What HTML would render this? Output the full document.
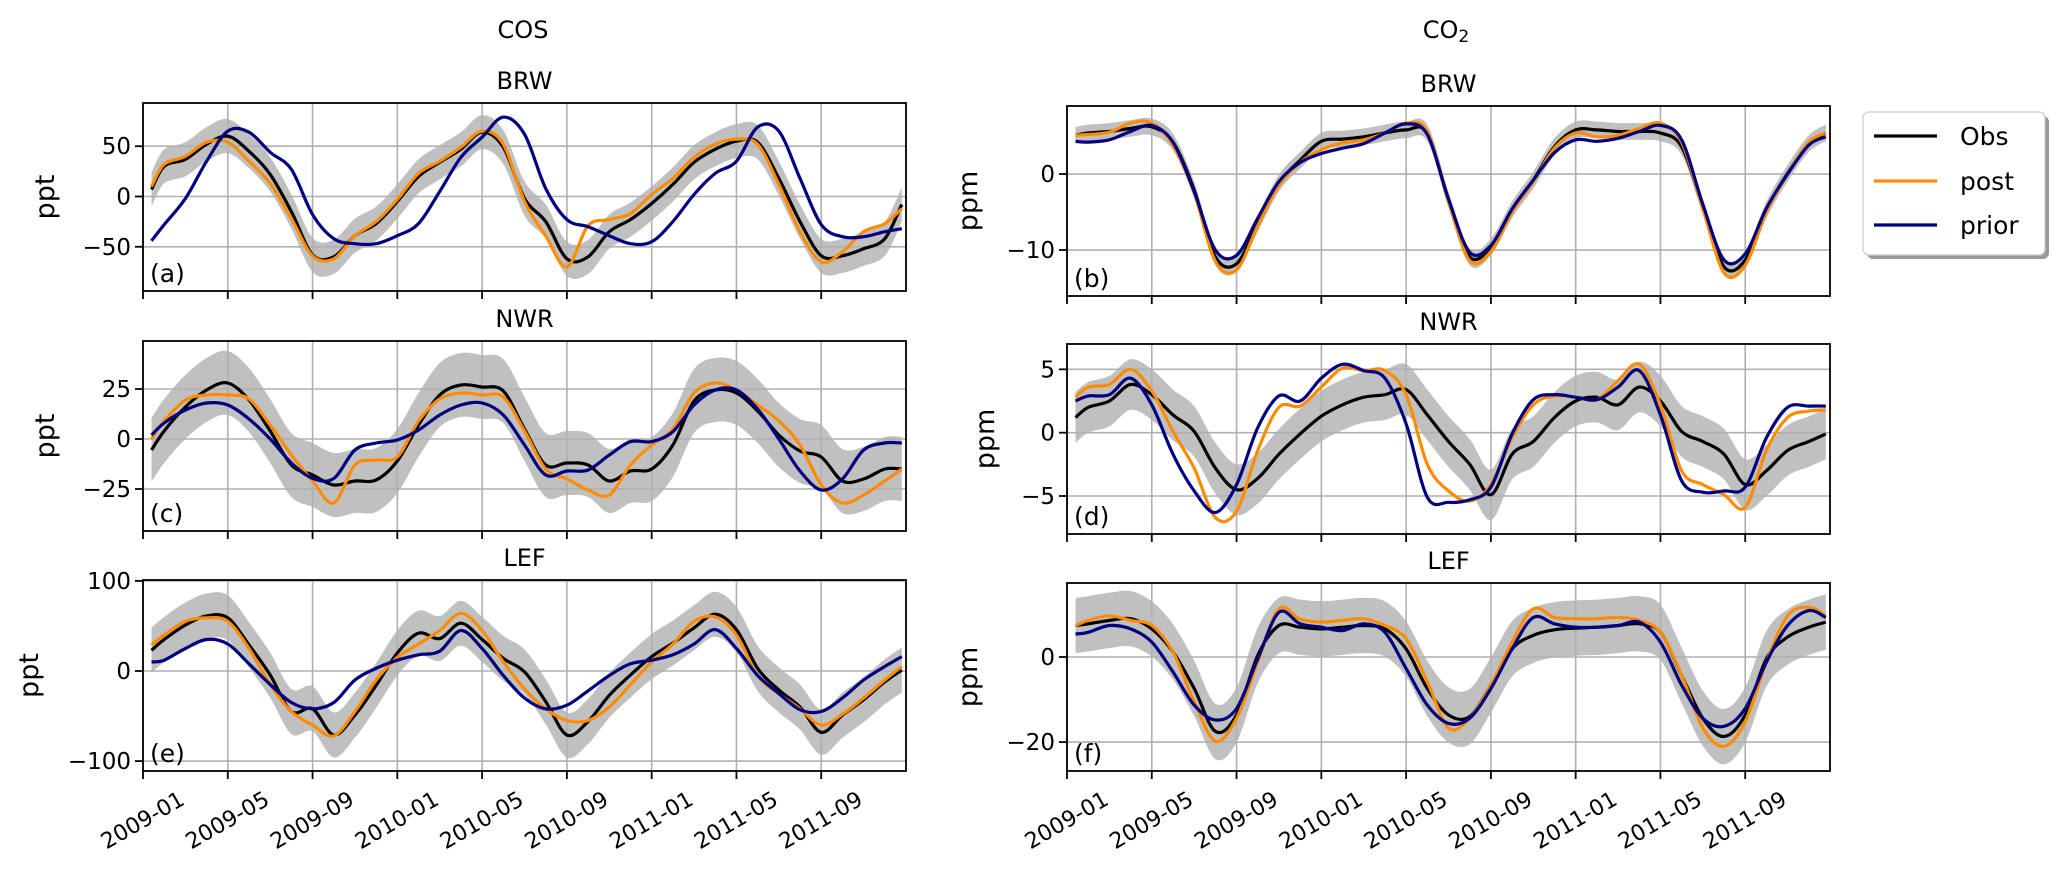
<!DOCTYPE html>
<html><head><meta charset="utf-8"><style>
html,body{margin:0;padding:0;background:#fff;}
svg{display:block;font-family:"DejaVu Sans","Liberation Sans",sans-serif;}
</style></head><body>
<svg id="fig" width="2067" height="878" viewBox="0 0 2067 878" xmlns="http://www.w3.org/2000/svg">
<text x="523" y="38" font-size="24" text-anchor="middle">COS</text>
<text x="1446" y="38" font-size="24" text-anchor="middle">CO<tspan font-size="17" dy="4">2</tspan></text>
<g>
<rect x="1867" y="116" width="182" height="143" rx="6" fill="#999"/>
<rect x="1863" y="112" width="182" height="143" rx="6" fill="#fff" stroke="#ccc" stroke-width="1.3"/>
<line x1="1874" y1="136" x2="1937" y2="136" stroke="#000" stroke-width="3.2"/>
<text x="1960" y="145" font-size="25">Obs</text>
<line x1="1874" y1="181" x2="1937" y2="181" stroke="#ff8c00" stroke-width="3.2"/>
<text x="1960" y="190" font-size="25">post</text>
<line x1="1874" y1="225" x2="1937" y2="225" stroke="#000080" stroke-width="3.2"/>
<text x="1960" y="234" font-size="25">prior</text>
</g>
</svg>
<script>
const months=[0.4,1,2,3,4,5,6,7,8,9,10,11,12,13,14,15,16,17,18,19,20,21,22,23,24,25,26,27,28,29,30,31,32,33,34,35,35.8];
const xTickMonths=[0,4,8,12,16,20,24,28,32];
const xTickLabels=["2009-01","2009-05","2009-09","2010-01","2010-05","2010-09","2011-01","2011-05","2011-09"];

const obsA=[7,30,37,52,60,45,22,-15,-58,-60,-39,-27,-5,20,34,47,64,49,-2,-25,-62,-60,-35,-23,-7,12,34,47,55,54,18,-25,-59,-59,-52,-42,-8];
const postA=[10,32,40,54,54,35,13,-22,-59,-62,-39,-25,-3,23,35,49,65,52,-5,-39,-70,-29,-23,-17,2,18,39,52,57,52,12,-35,-65,-55,-35,-27,-12];
const priorA=[-44,-28,-2,35,65,64,44,27,-18,-42,-47,-47,-39,-27,5,39,59,79,62,8,-23,-30,-39,-47,-45,-25,2,23,35,69,65,18,-28,-40,-40,-35,-32];
const obsB=[5.1,5.4,5.6,6,6.2,4.2,-2.1,-10.9,-11.8,-6.5,-1.2,1.8,4.3,4.6,4.9,5.4,5.8,5.4,-3.4,-10.9,-9.6,-4.7,-0.8,3.6,5.8,5.8,5.6,5.6,5.4,3.6,-4.3,-12.2,-11.3,-4.7,0.1,4,5.4];
const postB=[5.1,5.2,5.5,6.7,6.7,3.8,-2.5,-11.5,-12.6,-6.8,-1.5,1.5,3.2,4.1,4.5,5.4,6.7,5.6,-3.6,-11.4,-10.2,-5,-1,3.4,5.4,4.9,5.1,6,6.7,4.2,-4.5,-13,-12,-5,0,4.2,5.4];
const priorB=[4.3,4.2,4.5,5.6,6.4,4.2,-2.3,-10,-10.7,-5.8,-1,1.5,2.7,3.4,4,5.4,6.6,5.2,-3.3,-10.3,-9.4,-4.6,-0.8,2.8,4.5,4.3,4.7,5.6,6.4,4.5,-4,-11.3,-10.5,-4.5,0,3.8,4.9];
const obsC=[-5.5,4,16,24.5,28,19.5,4,-13,-18,-23,-21,-20.5,-11,7,22,27,26,24,5,-13,-12,-13,-21,-16,-15,-3,19,24.5,23,14,2,-6,-9,-21,-20,-15,-15];
const postC=[0,9,19.5,22,22,20,7,-8,-21,-32,-13,-10.5,-9,9,20,23,22,21,4,-15,-20,-25.5,-28,-13,-3,5,23,28,24.5,17,9,-3,-23,-32,-28,-21,-15];
const priorC=[2,8,14.5,18,17,10,0,-12,-19.7,-19.7,-5.5,-2,-0.5,4.5,12,17,18,12,-3,-18,-16,-15.5,-8,-1.3,-1.3,3.7,17,24.5,24.5,15,0,-16,-25.5,-20,-5.5,-2,-2];
const obsD=[1.2,2,2.5,3.8,3,1.4,0.1,-2.8,-4.5,-3.6,-1.7,-0.1,1.3,2.2,2.8,3,3.4,1.4,-0.7,-2.5,-4.9,-1.7,-0.7,1.2,2.5,2.8,2.2,3.6,2.5,0.1,-0.7,-1.7,-4.1,-3,-1.4,-0.7,-0.1];
const postD=[2.8,3.6,3.8,5,3.3,0.1,-2.8,-6.7,-6.2,-1.4,2,2.1,3.6,5.1,4.9,4.9,3,-2.5,-4.6,-5.4,-4.1,-0.4,2.2,2.9,2.8,2.6,4.1,5.4,2.2,-3,-4.1,-4.9,-5.9,-1.4,1.2,1.7,1.8];
const priorD=[2.5,2.9,3,4.3,2.2,-1.7,-4.6,-6.3,-4.1,0.4,2.9,2.5,4.3,5.4,4.9,4.3,0.7,-5.1,-5.5,-5.3,-4.3,-0.1,2.6,3,2.8,2.6,3.6,4.9,1.4,-3.8,-4.7,-4.6,-4.3,-0.4,2,2.1,2.1];
const obsE=[23,35,51,61,59,29,-4.5,-45,-42,-71,-49,-16,20,42,36,53,35,14,-1,-34,-71,-56,-27,-4.5,16,31,48,63,46,3,-21,-40,-68,-49,-32,-12,1];
const postE=[29,40,55,59,55,25,-15,-45,-60,-72,-45,-10,15,30,45,64,45,10,-20,-42,-55,-55,-40,-15,10,30,55,60,40,-5,-25,-42,-60,-48,-30,-10,5];
const priorE=[10,12,25,35,30,8,-15,-35,-42,-35,-10,3,12,18,22,45,25,-5,-30,-42,-38,-22,-5,8,12,18,30,46,25,-5,-25,-43,-45,-30,-10,5,16];
const obsF=[7.4,7.8,8.6,9,6.6,1.2,-7.4,-17.5,-13.6,0.4,7.4,7,6.6,7,7.4,6.6,1.9,-7.4,-13.6,-14,-6.6,1.9,5.1,6.4,6.8,7,7.4,7.8,5.8,-4.3,-14.4,-18.7,-13.6,-0.4,4.7,7,8.2];
const postF=[7.4,8.6,9.7,8.6,7.4,1.2,-10.5,-19.8,-14.4,-1.2,11.3,8.9,8.2,8.6,9,7.4,4.3,-5.8,-16.7,-14.4,-6.6,3.5,11.3,9.3,9,9,9.3,8.6,5.8,-4.3,-16.7,-21,-15.2,-1.2,9.7,11.7,9.7];
const priorF=[5.4,5.8,7.4,6.6,3.5,-3.5,-11.3,-14.8,-12.1,-0.4,10.5,7.8,7,6.2,7.8,5.8,-2.7,-11.3,-15.6,-14.4,-7.4,1.9,9.3,7.8,7,7,7.4,8.2,3.5,-6.6,-14.4,-16.3,-12.1,-1.2,7.4,10.9,9.3];
const bandA=17, bandB=1.1, bandC=16, bandD=2, bandE=25, bandF=6.5;
const yTicksA=[-50,0,50], yTicksB=[-10,0], yTicksC=[-25,0,25], yTicksD=[-5,0,5], yTicksE=[-100,0,100], yTicksF=[-20,0];

const NS="http://www.w3.org/2000/svg";
const svg=document.getElementById('fig');
function mk(tag,attrs,parent){const e=document.createElementNS(NS,tag);for(const k in attrs)e.setAttribute(k,attrs[k]);(parent||svg).appendChild(e);return e;}
function smooth(pts){let d="M"+pts[0][0].toFixed(1)+","+pts[0][1].toFixed(1);
 for(let i=0;i<pts.length-1;i++){const p0=pts[Math.max(i-1,0)],p1=pts[i],p2=pts[i+1],p3=pts[Math.min(i+2,pts.length-1)];
  const c1=[p1[0]+(p2[0]-p0[0])/6,p1[1]+(p2[1]-p0[1])/6],c2=[p2[0]-(p3[0]-p1[0])/6,p2[1]-(p3[1]-p1[1])/6];
  d+="C"+c1[0].toFixed(1)+","+c1[1].toFixed(1)+" "+c2[0].toFixed(1)+","+c2[1].toFixed(1)+" "+p2[0].toFixed(1)+","+p2[1].toFixed(1);}
 return d;}

function panel(cfg){
 const {x0,x1,y0,y1,ymin,ymax,obs,post,prior,band,yticks,title,label,ylabel,id,showX}=cfg;
 const g=mk('g',{});
 
 
 const X=m=>x0+(m/36)*(x1-x0);
 const Y=v=>y1-(v-ymin)/(ymax-ymin)*(y1-y0);
 const clipId='clip-'+id;
 const cp=mk('clipPath',{id:clipId},g);mk('rect',{x:x0,y:y0,width:x1-x0,height:y1-y0},cp);
 const up=months.map((m,i)=>[X(m),Y(obs[i]+band)]);
 const lo=months.map((m,i)=>[X(m),Y(obs[i]-band)]).reverse();
 const bd=smooth(up)+"L"+smooth(lo).slice(1)+"Z";
 const bp=mk('path',{d:bd,fill:'#c0c0c0',stroke:'none','clip-path':'url(#'+clipId+')'},g);
 
 
 xTickMonths.forEach((m,i)=>{const l=mk('line',{x1:X(m),x2:X(m),y1:y0,y2:y1,stroke:'#b0b0b0','stroke-width':1.6},g);
  
  });
 yticks.forEach(v=>{const l=mk('line',{x1:x0,x2:x1,y1:Y(v),y2:Y(v),stroke:'#b0b0b0','stroke-width':1.6},g);
  
  });
 [[obs,'#000000','obs'],[post,'#ff8c00','post'],[prior,'#000080','prior']].forEach(s=>{
  const p=mk('path',{d:smooth(months.map((m,i)=>[X(m),Y(s[0][i])])),fill:'none',stroke:s[1],'stroke-width':3.2,'stroke-linejoin':'round','clip-path':'url(#'+clipId+')'},g);
  
  });
 const fr=mk('rect',{x:x0,y:y0,width:x1-x0,height:y1-y0,fill:'none',stroke:'#000','stroke-width':1.8},g);
 
 
 yticks.forEach(v=>{mk('line',{x1:x0-8,x2:x0,y1:Y(v),y2:Y(v),stroke:'#000','stroke-width':1.8},g);
  const t=mk('text',{x:x0-12,y:Y(v)+8,'font-size':23,'text-anchor':'end'},g);
  t.textContent=(v<0?'\u2212'+(-v):String(v));
  
  });
 xTickMonths.forEach((m,i)=>{mk('line',{x1:X(m),x2:X(m),y1:y1,y2:y1+8,stroke:'#000','stroke-width':1.8},g);
  if(showX){const t=mk('text',{x:0,y:0,'font-size':22,'text-anchor':'middle','dominant-baseline':'central',transform:'translate('+X(m)+','+(y1+50)+') rotate(-30)'},g);
   t.textContent=xTickLabels[i];
   
   }});
 const tt=mk('text',{x:(x0+x1)/2,y:y0-14,'font-size':24,'text-anchor':'middle'},g);tt.textContent=title;
 
 
 const lb=mk('text',{x:x0+7,y:y1-9,'font-size':25},g);lb.textContent=label;
 
 
 const yl=mk('text',{x:0,y:0,'font-size':27,'text-anchor':'middle',transform:'translate('+cfg.ylx+','+((y0+y1)/2)+') rotate(-90)'},g);yl.textContent=ylabel;
 
 
}
const L0=143,L1=906,R0=1067,R1=1830;
panel({id:'a',x0:L0,x1:L1,y0:103,y1:291,ymin:-94,ymax:93,obs:obsA,post:postA,prior:priorA,band:bandA,yticks:yTicksA,title:'BRW',label:'(a)',ylabel:'ppt',ylx:54,showX:false});
panel({id:'c',x0:L0,x1:L1,y0:341,y1:531,ymin:-46,ymax:49,obs:obsC,post:postC,prior:priorC,band:bandC,yticks:yTicksC,title:'NWR',label:'(c)',ylabel:'ppt',ylx:54,showX:false});
panel({id:'e',x0:L0,x1:L1,y0:580,y1:771,ymin:-111,ymax:101,obs:obsE,post:postE,prior:priorE,band:bandE,yticks:yTicksE,title:'LEF',label:'(e)',ylabel:'ppt',ylx:38,showX:true});
panel({id:'b',x0:R0,x1:R1,y0:106,y1:296,ymin:-16.05,ymax:8.95,obs:obsB,post:postB,prior:priorB,band:bandB,yticks:yTicksB,title:'BRW',label:'(b)',ylabel:'ppm',ylx:977,showX:false});
panel({id:'d',x0:R0,x1:R1,y0:344,y1:534,ymin:-8,ymax:7,obs:obsD,post:postD,prior:priorD,band:bandD,yticks:yTicksD,title:'NWR',label:'(d)',ylabel:'ppm',ylx:994,showX:false});
panel({id:'f',x0:R0,x1:R1,y0:583,y1:771,ymin:-26.8,ymax:17.4,obs:obsF,post:postF,prior:priorF,band:bandF,yticks:yTicksF,title:'LEF',label:'(f)',ylabel:'ppm',ylx:977,showX:true});
</script>
</body></html>
